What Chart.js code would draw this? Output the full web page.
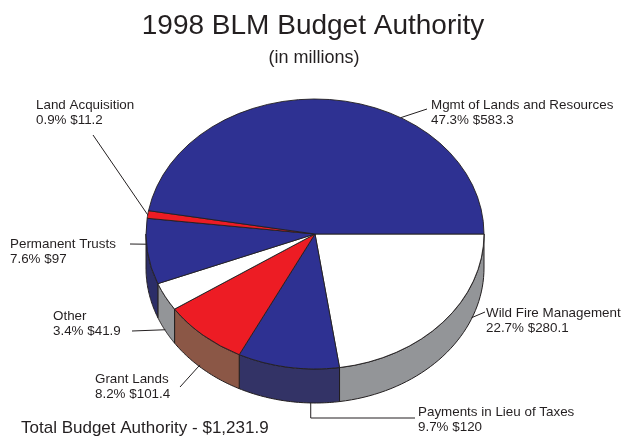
<!DOCTYPE html>
<html>
<head>
<meta charset="utf-8">
<script src="https://cdn.jsdelivr.net/npm/chart.js@4.4.1/dist/chart.umd.min.js"></script>
<style>
  html, body { margin: 0; padding: 0; background: #fff; }
</style>
</head>
<body>
<canvas id="pie" width="626" height="437"></canvas>
<script>
// data, in drawing order (clockwise from 3 o'clock)
const categories = ['Wild Fire Management', 'Payments in Lieu of Taxes', 'Grant Lands', 'Other',
                    'Permanent Trusts', 'Land Acquisition', 'Mgmt of Lands and Resources'];
const amounts = [280.1, 120, 101.4, 41.9, 97, 11.2, 583.3];
const percentText = ['22.7%', '9.7%', '8.2%', '3.4%', '7.6%', '0.9%', '47.3%'];
const amountText = ['$280.1', '$120', '$101.4', '$41.9', '$97', '$11.2', '$583.3'];
const totalText = 'Total Budget Authority - $1,231.9';

const topColors = ['#ffffff', '#2e3192', '#ed1c24', '#ffffff', '#2e3192', '#ed1c24', '#2e3192'];
const sideColors = ['#939598', '#333366', '#8b5746', '#939598', '#2c2e68', '#a01419', '#24266e'];

// label layout: text left/centre of first line, leader start (fraction of slice, drop into wall), leader end
const labelPos = [
  { x: 486, y: 313, frac: 0.27, drop: 33, to: [[485, 312]] },
  { x: 418, y: 412, frac: 0.28, drop: 34, to: [[null, 418], [415, 418]] },
  { x: 95,  y: 379, frac: 0.55, drop: 32, to: [[180, 387]] },
  { x: 53,  y: 316, frac: 0.5,  drop: 33, to: [[132, 331]] },
  { x: 10,  y: 244, frac: 0.61, drop: 0,  to: [[130, 244]] },
  { x: 36,  y: 105, frac: 0.45, drop: 0,  to: [[93, 135]] },
  { x: 431, y: 105, frac: 0.65, drop: 0,  to: [[427, 109]] }
];

const tilt = 135 / 169;   // vertical squash of the pie
const depth = 34;         // height of the side wall
const ink = '#231f20';
const fontFam = '"Liberation Sans", Arial, sans-serif';

function rimPoint(arc, t, drop) {
  return [arc.x + arc.outerRadius * Math.cos(t), arc.y + tilt * arc.outerRadius * Math.sin(t) + drop];
}

const pie3d = {
  id: 'pie3d',
  beforeDatasetsDraw(chart) {
    const ctx = chart.ctx;
    const arcs = chart.getDatasetMeta(0).data;
    // front side walls
    arcs.forEach((arc, i) => {
      const a0 = Math.max(arc.startAngle, 0);
      const a1 = Math.min(arc.endAngle, Math.PI);
      if (a1 <= a0) return;
      const steps = 40;
      ctx.beginPath();
      for (let s = 0; s <= steps; s++) {
        const p = rimPoint(arc, a0 + (a1 - a0) * s / steps, 0);
        s === 0 ? ctx.moveTo(p[0], p[1]) : ctx.lineTo(p[0], p[1]);
      }
      for (let s = steps; s >= 0; s--) {
        const p = rimPoint(arc, a0 + (a1 - a0) * s / steps, depth);
        ctx.lineTo(p[0], p[1]);
      }
      ctx.closePath();
      ctx.fillStyle = sideColors[i];
      ctx.fill();
      ctx.lineWidth = 1;
      ctx.strokeStyle = ink;
      ctx.stroke();
    });
    // squash the top face
    const cy = arcs[0].y;
    ctx.save();
    ctx.translate(0, cy);
    ctx.scale(1, tilt);
    ctx.translate(0, -cy);
  },
  afterDatasetsDraw(chart) {
    chart.ctx.restore();
  },
  afterDraw(chart) {
    const ctx = chart.ctx;
    const arcs = chart.getDatasetMeta(0).data;
    ctx.save();
    ctx.fillStyle = ink;

    ctx.textAlign = 'center';
    ctx.textBaseline = 'alphabetic';
    ctx.font = '28px ' + fontFam;
    ctx.fillText('1998 BLM Budget Authority', 313, 34);
    ctx.font = '18px ' + fontFam;
    ctx.fillText('(in millions)', 314, 63);

    ctx.textAlign = 'left';
    ctx.textBaseline = 'middle';
    ctx.font = '17px ' + fontFam;
    ctx.fillText(totalText, 21, 428);

    ctx.font = '13.4px ' + fontFam;
    ctx.strokeStyle = ink;
    ctx.lineWidth = 1;
    labelPos.forEach((lp, i) => {
      const arc = arcs[i];
      const t = arc.startAngle + (arc.endAngle - arc.startAngle) * lp.frac;
      const start = rimPoint(arc, t, lp.drop);
      ctx.beginPath();
      ctx.moveTo(start[0], start[1]);
      lp.to.forEach(pt => ctx.lineTo(pt[0] === null ? start[0] : pt[0], pt[1]));
      ctx.stroke();
      ctx.fillText(categories[i], lp.x, lp.y);
      ctx.fillText(percentText[i] + ' ' + amountText[i], lp.x, lp.y + 15);
    });
    ctx.restore();
  }
};

new Chart(document.getElementById('pie'), {
  type: 'pie',
  data: {
    labels: categories,
    datasets: [{
      data: amounts,
      backgroundColor: topColors,
      borderColor: ink,
      borderWidth: 1
    }]
  },
  options: {
    responsive: false,
    animation: false,
    rotation: 90,
    radius: 169,
    layout: { padding: { top: 64, bottom: 33, left: 4, right: 0 } },
    plugins: {
      legend: { display: false },
      tooltip: { enabled: false }
    },
    events: []
  },
  plugins: [pie3d]
});
</script>
</body>
</html>
